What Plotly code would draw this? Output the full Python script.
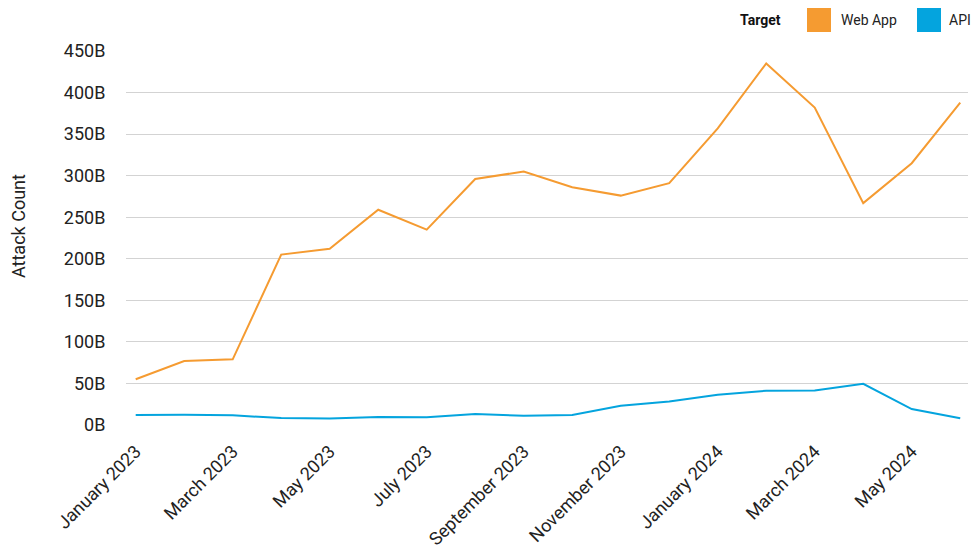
import plotly.graph_objects as go

months = ["January 2023", "February 2023", "March 2023", "April 2023", "May 2023", "June 2023",
          "July 2023", "August 2023", "September 2023", "October 2023", "November 2023", "December 2023",
          "January 2024", "February 2024", "March 2024", "April 2024", "May 2024", "June 2024"]
# values in billions
web_app = [55, 77, 79, 205, 212, 259, 235, 296, 305, 286, 276, 291, 357, 435, 382, 267, 315, 388]
api = [12, 12.4, 11.6, 8.4, 7.7, 9.6, 9.2, 13.2, 11.2, 12, 23.2, 28.4, 36.4, 41.2, 41.5, 49.6, 19.2, 8]
y_ticks = [0, 50, 100, 150, 200, 250, 300, 350, 400, 450]
x_ticks = months[::2]

ORANGE = "#F59B31"
BLUE = "#04A4DE"
FONT = "Roboto"

fig = go.Figure()
fig.add_trace(go.Scatter(x=months, y=web_app, mode="lines", name="Web App",
                         line=dict(color=ORANGE, width=2), showlegend=False))
fig.add_trace(go.Scatter(x=months, y=api, mode="lines", name="API",
                         line=dict(color=BLUE, width=2), showlegend=False))

L, R, T, B = 126, 3, 51, 131
W, H = 971, 556
pw, ph = W - L - R, H - T - B

def px(x):
    return (x - L) / pw

def py(y):
    return (H - B - y) / ph

fig.update_layout(
    width=W, height=H,
    margin=dict(l=L, r=R, t=T, b=B),
    plot_bgcolor="white", paper_bgcolor="white",
    font=dict(family=FONT, color="#222222"),
    xaxis=dict(type="category", range=[-0.2, 17.16], tickmode="array", tickvals=x_ticks,
               ticktext=x_ticks, tickangle=-45, showgrid=False, zeroline=False,
               ticks="outside", ticklen=8, tickcolor="rgba(0,0,0,0)",
               tickfont=dict(size=18, color="#222222"), showline=False),
    yaxis=dict(range=[0, 450], tickmode="array", tickvals=y_ticks,
               ticktext=[f"{v}B" for v in y_ticks], showgrid=True, gridcolor="#D3D3D3",
               gridwidth=1, zeroline=False, ticks="outside", ticklen=16,
               tickcolor="rgba(0,0,0,0)", tickfont=dict(size=18, color="#222222")),
)

# y-axis title
fig.add_annotation(text="Attack Count", xref="paper", yref="paper", x=px(18), y=py(226),
                   textangle=-90, showarrow=False, font=dict(size=18, color="#222222"),
                   xanchor="center", yanchor="middle")

# legend (drawn manually with square swatches)
fig.add_annotation(text="<b>Target</b>", xref="paper", yref="paper", x=px(738), y=py(20),
                   showarrow=False, xanchor="left", yanchor="middle",
                   font=dict(size=14, color="#111111"))
for name, color, sx, tx in [("Web App", ORANGE, 807, 839), ("API", BLUE, 917, 947)]:
    fig.add_shape(type="rect", xref="paper", yref="paper", x0=px(sx), x1=px(sx + 24),
                  y0=py(32), y1=py(8), fillcolor=color, line=dict(width=0))
    fig.add_annotation(text=name, xref="paper", yref="paper", x=px(tx), y=py(20),
                       showarrow=False, xanchor="left", yanchor="middle",
                       font=dict(size=14, color="#222222"))

fig.write_html("out.html", config={"displayModeBar": False},
               post_script="document.body.style.margin='0px';")
